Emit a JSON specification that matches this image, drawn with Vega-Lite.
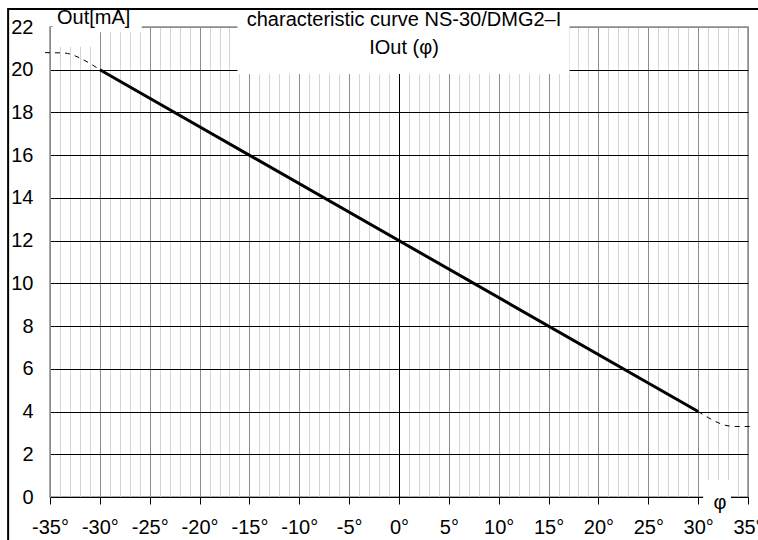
{
  "$schema": "https://vega.github.io/schema/vega-lite/v6.json",
  "width": 698,
  "height": 470,
  "autosize": {"type": "none"},
  "padding": {"left": 50, "top": 27, "right": 10, "bottom": 43},
  "background": "white",
  "config": {
    "font": "Liberation Sans",
    "view": {"stroke": "#8c8c8c", "strokeWidth": 1.5},
    "text": {"font": "Liberation Sans", "fontSize": 20, "color": "black"}
  },
  "datasets": {
    "curve": [
      {"phi": -30, "iout": 20, "part": "main"},
      {"phi": 30, "iout": 4, "part": "main"},
      {"phi": -35.5, "iout": 20.8, "part": "low"},
      {"phi": -33.5, "iout": 20.78, "part": "low"},
      {"phi": -32.5, "iout": 20.65, "part": "low"},
      {"phi": -31.2, "iout": 20.35, "part": "low"},
      {"phi": -30, "iout": 20, "part": "low"},
      {"phi": 30, "iout": 4, "part": "high"},
      {"phi": 31, "iout": 3.72, "part": "high"},
      {"phi": 32, "iout": 3.48, "part": "high"},
      {"phi": 33, "iout": 3.33, "part": "high"},
      {"phi": 34, "iout": 3.3, "part": "high"},
      {"phi": 35.3, "iout": 3.3, "part": "high"}
    ]
  },
  "layer": [
    {
      "data": {"name": "curve"},
      "transform": [{"filter": "datum.part === 'main'"}],
      "mark": {"type": "line", "color": "black", "strokeWidth": 3, "clip": false},
      "encoding": {
        "x": {
          "field": "phi",
          "type": "quantitative",
          "scale": {"domain": [-35, 35], "nice": false, "zero": false},
          "axis": {
            "title": null,
            "tickCount": 200,
            "values": [-35, -34, -33, -32, -31, -30, -29, -28, -27, -26, -25, -24, -23, -22, -21, -20, -19, -18, -17, -16, -15, -14, -13, -12, -11, -10, -9, -8, -7, -6, -5, -4, -3, -2, -1, 0, 1, 2, 3, 4, 5, 6, 7, 8, 9, 10, 11, 12, 13, 14, 15, 16, 17, 18, 19, 20, 21, 22, 23, 24, 25, 26, 27, 28, 29, 30, 31, 32, 33, 34, 35],
            "grid": true,
            "gridColor": {
              "condition": [
                {"test": "datum.value === 0", "value": "#000000"},
                {"test": "datum.value % 5 === 0", "value": "#8c8c8c"}
              ],
              "value": "#d4d4d4"
            },
            "gridWidth": 1,
            "domainColor": "black",
            "domainWidth": 1,
            "tickSize": 7,
            "tickColor": {
              "condition": {"test": "datum.value % 5 === 0", "value": "black"},
              "value": "transparent"
            },
            "labelExpr": "datum.value % 5 === 0 ? datum.value + '°' : ''",
            "labelOverlap": false,
            "labelFlush": false,
            "labelFont": "Liberation Sans",
            "labelFontSize": 20,
            "labelColor": "black",
            "labelPadding": 13
          }
        },
        "y": {
          "field": "iout",
          "type": "quantitative",
          "scale": {"domain": [0, 22], "nice": false, "zero": false},
          "axis": {
            "title": null,
            "values": [0, 2, 4, 6, 8, 10, 12, 14, 16, 18, 20, 22],
            "format": "d",
            "grid": true,
            "gridColor": {
              "condition": {"test": "datum.value === 22", "value": "#8c8c8c"},
              "value": "#000000"
            },
            "domainColor": "#8c8c8c",
            "ticks": false,
            "labelFont": "Liberation Sans",
            "labelFontSize": 20,
            "labelColor": "black",
            "labelPadding": 17,
            "labelFlush": false
          }
        }
      }
    },
    {
      "data": {"name": "curve"},
      "transform": [{"filter": "datum.part !== 'main'"}],
      "mark": {"type": "line", "color": "black", "strokeWidth": 1, "strokeDash": [5, 5], "interpolate": "monotone", "clip": false},
      "encoding": {
        "x": {"field": "phi", "type": "quantitative", "scale": {"domain": [-35, 35], "nice": false, "zero": false}},
        "y": {"field": "iout", "type": "quantitative", "scale": {"domain": [0, 22], "nice": false, "zero": false}},
        "detail": {"field": "part"}
      }
    },
    {
      "data": {"values": [{}]},
      "mark": {"type": "rect", "filled": false, "stroke": "black", "strokeWidth": 2, "clip": false},
      "encoding": {
        "x": {"datum": -39.2, "type": "quantitative", "scale": {"domain": [-35, 35], "nice": false, "zero": false}},
        "x2": {"datum": 36.5},
        "y": {"datum": 22.84, "type": "quantitative", "scale": {"domain": [0, 22], "nice": false, "zero": false}},
        "y2": {"datum": -2.5}
      }
    },
    {
      "data": {"values": [{}]},
      "mark": {"type": "rect", "color": "white", "clip": false},
      "encoding": {
        "x": {"datum": -16.2, "type": "quantitative", "scale": {"domain": [-35, 35], "nice": false, "zero": false}},
        "x2": {"datum": 17.1},
        "y": {"datum": 22.75, "type": "quantitative", "scale": {"domain": [0, 22], "nice": false, "zero": false}},
        "y2": {"datum": 19.8}
      }
    },
    {
      "data": {"values": [{}]},
      "mark": {"type": "rect", "color": "white", "clip": false},
      "encoding": {
        "x": {"datum": -34.7, "type": "quantitative", "scale": {"domain": [-35, 35], "nice": false, "zero": false}},
        "x2": {"datum": -25.8},
        "y": {"datum": 22.75, "type": "quantitative", "scale": {"domain": [0, 22], "nice": false, "zero": false}},
        "y2": {"datum": 21.75}
      }
    },
    {
      "data": {"values": [{}]},
      "mark": {"type": "rect", "color": "white", "clip": false},
      "encoding": {
        "x": {"datum": -34.9, "type": "quantitative", "scale": {"domain": [-35, 35], "nice": false, "zero": false}},
        "x2": {"datum": -30.1},
        "y": {"datum": 22, "type": "quantitative", "scale": {"domain": [0, 22], "nice": false, "zero": false}},
        "y2": {"datum": 21.07}
      }
    },
    {
      "data": {"values": [{}]},
      "mark": {"type": "rect", "color": "white", "clip": false},
      "encoding": {
        "x": {"datum": 30.5, "type": "quantitative", "scale": {"domain": [-35, 35], "nice": false, "zero": false}},
        "x2": {"datum": 33.3},
        "y": {"datum": 0.8, "type": "quantitative", "scale": {"domain": [0, 22], "nice": false, "zero": false}},
        "y2": {"datum": -0.7}
      }
    },
    {
      "data": {"values": [{}]},
      "mark": {"type": "text", "align": "center", "baseline": "middle", "clip": false, "text": "characteristic curve NS-30/DMG2–I"},
      "encoding": {
        "x": {"datum": 0.5, "type": "quantitative", "scale": {"domain": [-35, 35], "nice": false, "zero": false}},
        "y": {"datum": 22.33, "type": "quantitative", "scale": {"domain": [0, 22], "nice": false, "zero": false}}
      }
    },
    {
      "data": {"values": [{}]},
      "mark": {"type": "text", "align": "center", "baseline": "middle", "clip": false, "text": "IOut (φ)"},
      "encoding": {
        "x": {"datum": 0.5, "type": "quantitative", "scale": {"domain": [-35, 35], "nice": false, "zero": false}},
        "y": {"datum": 21.02, "type": "quantitative", "scale": {"domain": [0, 22], "nice": false, "zero": false}}
      }
    },
    {
      "data": {"values": [{}]},
      "mark": {"type": "text", "align": "left", "baseline": "middle", "clip": false, "text": "Out[mA]"},
      "encoding": {
        "x": {"datum": -34.3, "type": "quantitative", "scale": {"domain": [-35, 35], "nice": false, "zero": false}},
        "y": {"datum": 22.42, "type": "quantitative", "scale": {"domain": [0, 22], "nice": false, "zero": false}}
      }
    },
    {
      "data": {"values": [{}]},
      "mark": {"type": "text", "align": "center", "baseline": "middle", "clip": false, "text": "φ"},
      "encoding": {
        "x": {"datum": 32.2, "type": "quantitative", "scale": {"domain": [-35, 35], "nice": false, "zero": false}},
        "y": {"datum": -0.28, "type": "quantitative", "scale": {"domain": [0, 22], "nice": false, "zero": false}}
      }
    }
  ]
}
